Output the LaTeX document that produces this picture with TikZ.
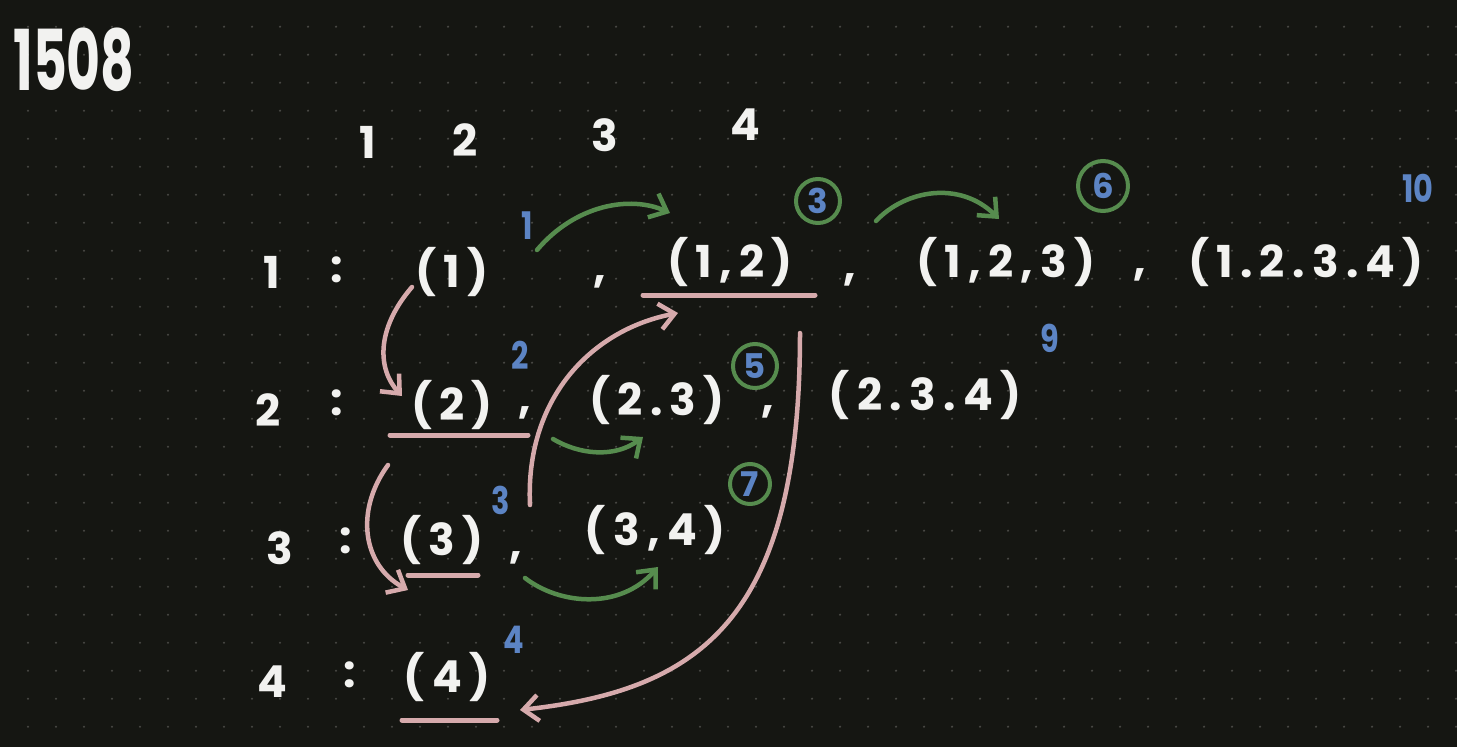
\documentclass[tikz,border=0pt]{standalone}
\usepackage{fontspec}
\setmainfont{Poppins}
\usetikzlibrary{arrows.meta}
\definecolor{bg}{RGB}{21,22,18}
\definecolor{dotc}{RGB}{72,72,68}
\definecolor{ink}{RGB}{242,242,240}
\definecolor{pnk}{RGB}{214,170,172}
\definecolor{grn}{RGB}{86,140,78}
\definecolor{blu}{RGB}{92,132,196}
\tikzset{
  txt/.style={text=ink, font=\fontsize{44}{50}\selectfont\bfseries, inner sep=0pt},
  big/.style={text=ink, font=\fontsize{84}{90}\selectfont\bfseries, inner sep=0pt, xscale=0.62, transform shape},
  bnum/.style={text=blu, font=\fontsize{38}{44}\selectfont\bfseries, inner sep=0pt, xscale=0.8, transform shape},
  circ/.style={draw=grn, line width=4pt, circle, minimum size=44pt, inner sep=0pt, text=blu, font=\fontsize{34}{40}\selectfont\bfseries},
  parr/.style={draw=pnk, line width=4.5pt, line cap=round, -{Straight Barb[length=15pt,width=26pt,line width=4.5pt]}},
  garr/.style={draw=grn, line width=4.5pt, line cap=round, -{Straight Barb[length=15pt,width=26pt,line width=4.5pt]}},
  ul/.style={draw=pnk, line width=5pt, line cap=round}
}
\begin{document}
\begin{tikzpicture}[x=1pt,y=-1pt]
\fill[bg] (0,0) rectangle (1457,747);
\useasboundingbox (0,0) rectangle (1457,747);
\foreach \i in {1,...,52}{\foreach \j in {0,...,26}{\fill[dotc] (28*\i,26.7+28*\j) circle (1.2pt);}}

% title
\node[big] (title) at (74,60) {1508};
% header
\node[txt] (h1) at (368,142) {1};
\node[txt] (h2) at (465,140) {2};
\node[txt] (h3) at (605,135) {3};
\node[txt] (h4) at (745,125) {4};

% row labels
\node[txt] (r1) at (272,272) {1};
\node[txt] (c1) at (337,270) {:};
\node[txt] (r2) at (268,410) {2};
\node[txt] (c2) at (337,403) {:};
\node[txt] (r3) at (280,548) {3};
\node[txt] (c3) at (346,541) {:};
\node[txt] (r4) at (272,682) {4};
\node[txt] (c4) at (350,675) {:};

% row 1
\node[txt] (t1) at (452,272) {(\,1\,)};
\node[txt] (k1) at (600,282) {,};
\node[txt] (t12) at (730,262) {(\,1\,,\,2\,)};
\node[txt] (k2) at (850,280) {,};
\node[txt] (t123) at (1006,262) {(\,1\,,\,2\,,\,3\,)};
\node[txt] (k3) at (1140,275) {,};
\node[txt] (t1234) at (1306,262) {(\,1\,.\,2\,.\,3\,.\,4\,)};
% row 2
\node[txt] (t2) at (452,405) {(\,2\,)};
\node[txt] (k5) at (525,413) {,};
\node[txt] (t23) at (657,400) {(\,2\,.\,3\,)};
\node[txt] (k4) at (768,412) {,};
\node[txt] (t234) at (925,395) {(\,2\,.\,3\,.\,4\,)};
% row 3
\node[txt] (t3) at (442,540) {(\,3\,)};
\node[txt] (k6) at (516,558) {,};
\node[txt] (t34) at (655,530) {(\,3\,,\,4\,)};
% row 4
\node[txt] (t4) at (447,677) {(\,4\,)};

% blue numbers
\node[bnum] (b1) at (527,226) {1};
\node[bnum] (b2) at (520,355) {2};
\node[bnum] (b3) at (501,500) {3};
\node[bnum] (b4) at (514,640) {4};
\node[bnum] (b9) at (1050,338) {9};
\node[bnum] (b10) at (1418,188) {10};
% circled numbers
\node[circ] (o3) at (818,201) {3};
\node[circ, minimum size=50pt] (o6) at (1103,186) {6};
\node[circ] (o5) at (755,366) {5};
\node[circ, minimum size=40pt] (o7) at (750,484) {7};

% underlines
\coordinate (u12a) at (643,295); \coordinate (u12b) at (815,295);
\coordinate (u2a) at (390,435); \coordinate (u2b) at (528,435);
\coordinate (u3a) at (408,575); \coordinate (u3b) at (478,575);
\coordinate (u4a) at (402,720); \coordinate (u4b) at (497,720);
\draw[ul] (u12a) -- (u12b);
\draw[ul] (u2a) -- (u2b);
\draw[ul] (u3a) -- (u3b);
\draw[ul] (u4a) -- (u4b);

% green arrows
\coordinate (g1s) at (537,250); \coordinate (g1e) at (670,213);
\draw[garr] (g1s) .. controls (575,205) and (630,195) .. (g1e);
\coordinate (g2s) at (876,221); \coordinate (g2e) at (999,219);
\draw[garr] (g2s) .. controls (905,190) and (960,180) .. (g2e);
\coordinate (g3s) at (553,439); \coordinate (g3e) at (643,437);
\draw[garr] (g3s) .. controls (580,455) and (615,458) .. (g3e);
\coordinate (g4s) at (525,578); \coordinate (g4e) at (658,567);
\draw[garr] (g4s) .. controls (560,605) and (620,610) .. (g4e);

% pink arrows
\coordinate (p1s) at (412,287); \coordinate (p1e) at (402,396);
\draw[parr] (p1s) .. controls (375,330) and (378,370) .. (p1e);
\coordinate (p2s) at (388,465); \coordinate (p2e) at (408,590);
\draw[parr] (p2s) .. controls (355,510) and (362,565) .. (p2e);
\coordinate (p3s) at (530,505); \coordinate (p3e) at (678,313);
\draw[parr] (p3s) .. controls (525,400) and (590,330) .. (p3e);
\coordinate (p4s) at (800,333); \coordinate (p4e) at (520,710);
\draw[parr] (p4s) .. controls (800,620) and (700,690) .. (p4e);
\end{tikzpicture}
\end{document}
